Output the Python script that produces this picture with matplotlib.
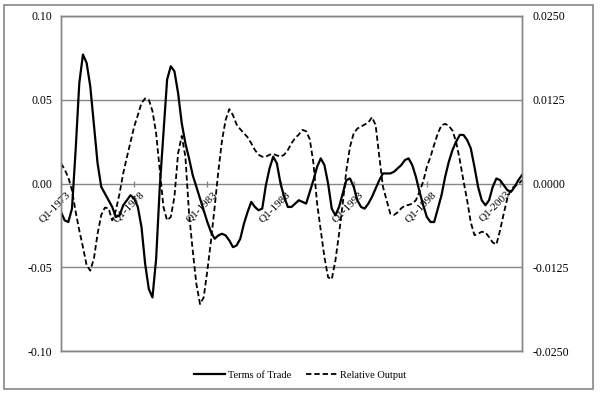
import matplotlib
matplotlib.use("Agg")
import matplotlib.pyplot as plt
import matplotlib.transforms as mtransforms
from matplotlib.patches import Rectangle
from matplotlib.ticker import FormatStrFormatter

plt.rcParams['font.family'] = ['Liberation Serif', 'DejaVu Serif']
plt.rcParams['axes.unicode_minus'] = False

# quarterly data, Q1-1973 .. Q3-2004
terms_of_trade = [
    -0.017, -0.022, -0.023, -0.015, 0.020, 0.060, 0.077, 0.072, 0.058, 0.035,
    0.012, -0.002, -0.006, -0.010, -0.014, -0.020, -0.019, -0.013, -0.010, -0.007,
    -0.009, -0.014, -0.026, -0.048, -0.063, -0.068, -0.045, -0.002, 0.030, 0.062,
    0.070, 0.067, 0.054, 0.036, 0.024, 0.015, 0.005, -0.002, -0.009, -0.016,
    -0.023, -0.029, -0.033, -0.031, -0.030, -0.031, -0.034, -0.038, -0.037, -0.033,
    -0.024, -0.017, -0.011, -0.014, -0.016, -0.015, -0.001, 0.009, 0.016, 0.012,
    0.000, -0.008, -0.014, -0.014, -0.012, -0.010, -0.011, -0.012, -0.005, 0.002,
    0.010, 0.015, 0.011, 0.000, -0.015, -0.019, -0.014, -0.006, 0.002, 0.003,
    -0.002, -0.010, -0.014, -0.015, -0.012, -0.008, -0.003, 0.002, 0.006, 0.006,
    0.006, 0.007, 0.009, 0.011, 0.014, 0.015, 0.011, 0.004, -0.005, -0.013,
    -0.020, -0.023, -0.023, -0.015, -0.007, 0.004, 0.013, 0.020, 0.025, 0.029,
    0.029, 0.026, 0.021, 0.010, -0.002, -0.010, -0.013, -0.010, -0.002, 0.003,
    0.002, -0.001, -0.004, -0.005, -0.002, 0.002, 0.005,
]

relative_output = [
    0.0030, 0.0021, 0.0009, -0.0010, -0.0042, -0.0070, -0.0095, -0.0122, -0.0130, -0.0112,
    -0.0075, -0.0047, -0.0036, -0.0037, -0.0055, -0.0040, -0.0015, 0.0015, 0.0039, 0.0062,
    0.0085, 0.0102, 0.0120, 0.0127, 0.0125, 0.0108, 0.0075, 0.0020, -0.0035, -0.0055,
    -0.0050, -0.0020, 0.0045, 0.0071, 0.0040, -0.0045, -0.0100, -0.0150, -0.0180, -0.0170,
    -0.0130, -0.0085, -0.0035, 0.0018, 0.0064, 0.0095, 0.0111, 0.0102, 0.0088, 0.0081,
    0.0075, 0.0069, 0.0060, 0.0050, 0.0043, 0.0040, 0.0040, 0.0043, 0.0044, 0.0042,
    0.0040, 0.0043, 0.0050, 0.0060, 0.0068, 0.0073, 0.0080, 0.0078, 0.0066, 0.0030,
    -0.0030, -0.0070, -0.0110, -0.0140, -0.0143, -0.0115, -0.0075, -0.0030, 0.0020, 0.0055,
    0.0075, 0.0082, 0.0085, 0.0088, 0.0091, 0.0099, 0.0087, 0.0040, -0.0005, -0.0025,
    -0.0045, -0.0047, -0.0043, -0.0037, -0.0033, -0.0032, -0.0030, -0.0025, -0.0012, 0.0003,
    0.0025, 0.0040, 0.0058, 0.0075, 0.0087, 0.0089, 0.0086, 0.0079, 0.0062, 0.0035,
    0.0004, -0.0025, -0.0058, -0.0077, -0.0075, -0.0072, -0.0073, -0.0080, -0.0088, -0.0091,
    -0.0070, -0.0045, -0.0022, -0.0008, -0.0004, -0.0001, 0.0005,
]

tick_labels = ["Q1-1973", "Q1-1978", "Q1-1983", "Q1-1988", "Q1-1993", "Q1-1998", "Q1-2003"]
left_ticks = [-0.10, -0.05, 0.00, 0.05, 0.10]
right_ticks = [-0.025, -0.0125, 0.0, 0.0125, 0.025]

grey = "#868686"
x = list(range(len(terms_of_trade)))

fig = plt.figure(figsize=(6, 3.93), dpi=100)
fig.patches.append(Rectangle((4 / 600, 4 / 393), 589 / 600, 384 / 393,
                             transform=fig.transFigure, fill=False,
                             edgecolor=grey, linewidth=1.2))

ax = fig.add_axes([61 / 600, 1 - 351 / 393, 461 / 600, 335 / 393])
ax2 = ax.twinx()

ln1, = ax.plot(x, terms_of_trade, color="black", linewidth=1.6, zorder=3,
               label="Terms of Trade")
ln2, = ax2.plot(x, relative_output, color="black", linewidth=1.3,
                linestyle=(0, (3, 1.6)), label="Relative Output")

ax.set_xlim(0, len(x) - 1)
ax.set_ylim(-0.10, 0.10)
ax2.set_ylim(-0.025, 0.025)
ax.set_yticks(left_ticks)
ax2.set_yticks(right_ticks)
ax.yaxis.set_major_formatter(FormatStrFormatter("%.2f"))
ax2.yaxis.set_major_formatter(FormatStrFormatter("%.4f"))
ax.tick_params(axis="y", length=0, pad=6.5, labelsize=8.5)
ax2.tick_params(axis="y", length=0, pad=7.5, labelsize=8.5)

for v in left_ticks:
    ax.axhline(v, color=grey, linewidth=1.0, zorder=1)

for a in (ax, ax2):
    for s in a.spines.values():
        s.set_color(grey)
        s.set_linewidth(1.0)

# category axis crosses at zero
ax.set_xticks([])
tick_pos = list(range(0, len(x), 20))
ax.plot(tick_pos, [0] * len(tick_pos), linestyle="none", marker="|",
        markersize=4, color=grey, zorder=1)
offset = mtransforms.offset_copy(ax.transData, fig=fig, x=5, y=-6, units="dots")
for p, lab in zip(tick_pos, tick_labels):
    ax.text(p, 0, lab, rotation=45, ha="right", va="top", rotation_mode="anchor",
            fontsize=8, transform=offset, zorder=2)

fig.legend([ln1, ln2], ["Terms of Trade", "Relative Output"], loc="center",
           bbox_to_anchor=(0.5, 1 - 375 / 393), ncol=2, frameon=False,
           fontsize=7.5, handlelength=3.0, handletextpad=0.2, columnspacing=1.5)

fig.savefig("out.png", dpi=100)
